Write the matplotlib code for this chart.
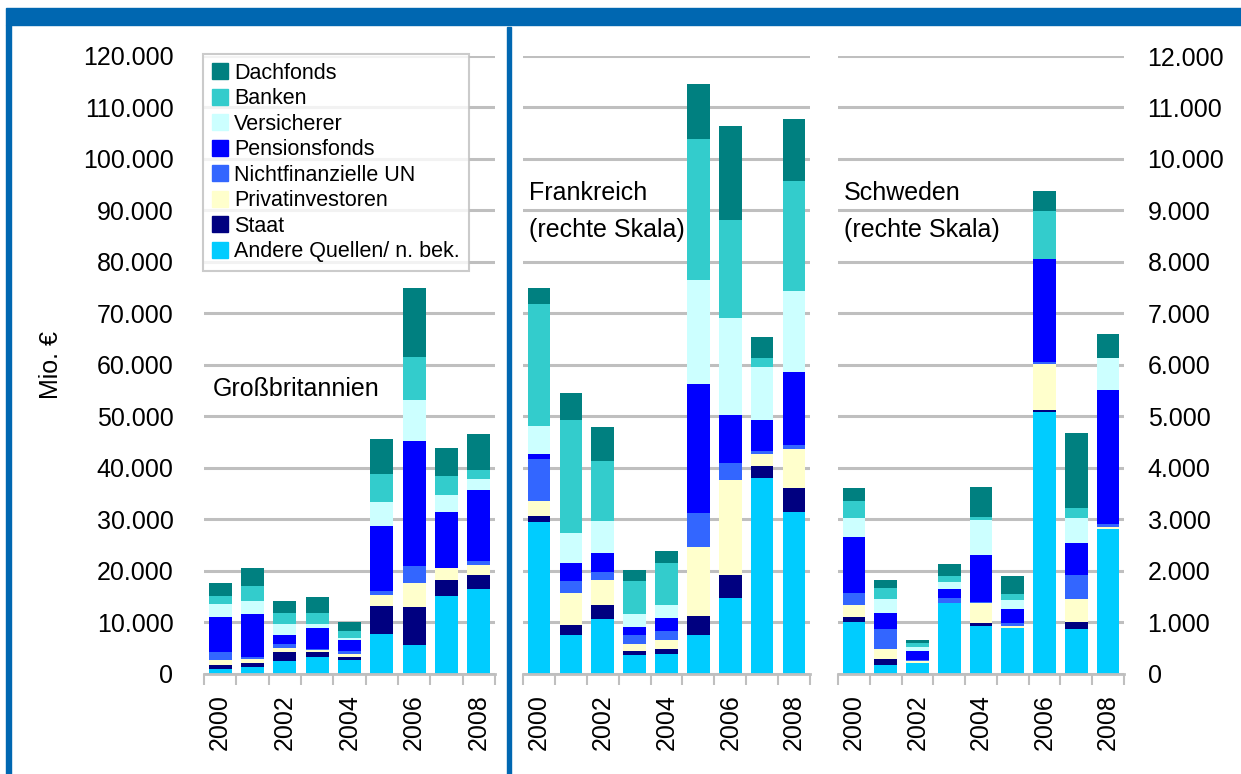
import numpy as np
import matplotlib
matplotlib.use("Agg")
import matplotlib.pyplot as plt
from matplotlib.patches import Patch, Rectangle
from matplotlib.ticker import FuncFormatter

plt.rcParams['font.family'] = ['Liberation Sans', 'DejaVu Sans']

jahre = [2000, 2001, 2002, 2003, 2004, 2005, 2006, 2007, 2008]
quellen = ["Andere Quellen/ n. bek.", "Staat", "Privatinvestoren", "Nichtfinanzielle UN",
           "Pensionsfonds", "Versicherer", "Banken", "Dachfonds"]
farben = ["#00CCFF", "#000080", "#FFFFCC", "#3366FF", "#0000FF", "#CCFFFF", "#33CCCC", "#008080"]

# Großbritannien (linke Skala), Mio. €
andere_uk = [840, 1230, 2400, 3170, 2590, 7640, 5510, 15030, 16390]
staat_uk = [780, 780, 1750, 970, 580, 5440, 7380, 3110, 2720]
privat_uk = [970, 780, 780, 390, 580, 2140, 4660, 2330, 1940]
nfu_uk = [1550, 390, 780, 190, 580, 780, 3300, 100, 780]
pension_uk = [6800, 8350, 1750, 4080, 2140, 12630, 24290, 10880, 13800]
vers_uk = [2530, 2530, 2140, 780, 390, 4660, 7970, 3300, 2140]
banken_uk = [1550, 2910, 2140, 2140, 1360, 5440, 8400, 3690, 1750]
dach_uk = [2530, 3500, 2330, 3110, 1750, 6800, 13400, 5440, 6990]

# Frankreich (rechte Skala)
andere_fr = [2940, 745, 1060, 360, 380, 745, 1460, 3800, 3130]
staat_fr = [120, 190, 270, 80, 100, 370, 450, 230, 470]
privat_fr = [290, 620, 490, 140, 170, 1340, 1850, 230, 760]
nfu_fr = [820, 250, 160, 160, 170, 660, 330, 60, 80]
pension_fr = [100, 350, 370, 170, 250, 2510, 930, 600, 1420]
vers_fr = [540, 580, 620, 250, 270, 2020, 1880, 1030, 1570]
banken_fr = [2370, 2200, 1150, 640, 800, 2740, 1910, 180, 2140]
dach_fr = [310, 520, 680, 210, 250, 1070, 1830, 410, 1200]

# Schweden (rechte Skala)
andere_se = [1000, 160, 200, 1370, 920, 880, 5080, 860, 2800]
staat_se = [100, 120, 10, 0, 60, 0, 40, 140, 0]
privat_se = [230, 190, 40, 0, 390, 40, 890, 450, 40]
nfu_se = [230, 390, 10, 100, 20, 60, 40, 470, 60]
pension_se = [1090, 310, 170, 170, 910, 270, 2000, 620, 2610]
vers_se = [370, 270, 80, 140, 680, 170, 0, 490, 620]
banken_se = [330, 230, 80, 120, 60, 120, 930, 190, 0]
dach_se = [250, 140, 60, 230, 580, 350, 400, 1460, 470]

W, H = 1241, 774
fig = plt.figure(figsize=(W / 100, H / 100), dpi=100)
grau = "#BFBFBF"
blau = "#0067B1"
fs = 18


def px_axes(x0, x1, y0=56, y1=673.5):
    return fig.add_axes([x0 / W, 1 - y1 / H, (x1 - x0) / W, (y1 - y0) / H])


def de_fmt(v, pos):
    return f"{int(round(v)):,}".replace(",", ".")


def zeichne(ax, reihen, ymax):
    x = np.arange(len(jahre))
    unten = np.zeros(len(jahre))
    for werte, farbe in zip(reihen, farben):
        ax.bar(x, werte, width=0.71, bottom=unten, color=farbe, zorder=3)
        unten += np.array(werte, dtype=float)
    ax.set_xlim(-0.5, 8.5)
    ax.set_ylim(0, ymax)
    ax.set_yticks(np.arange(0, ymax + 1, ymax / 12))
    ax.yaxis.grid(True, color=grau, lw=2.2, zorder=0)
    for s in ["top", "left", "right"]:
        ax.spines[s].set_visible(False)
    ax.spines["bottom"].set_color(grau)
    ax.spines["bottom"].set_linewidth(2)
    ax.spines["bottom"].set_zorder(4)
    # Jahre nur jedes zweite, Striche zwischen den Balken
    ax.set_xticks(x[::2])
    ax.set_xticklabels([str(j) for j in jahre[::2]], rotation=90, fontsize=fs)
    ax.tick_params(axis="x", which="major", length=0, pad=15)
    ax.set_xticks(np.arange(-0.5, 9, 1), minor=True)
    ax.tick_params(axis="x", which="minor", length=8, width=1.5, color=grau)
    ax.tick_params(axis="y", length=0, labelsize=fs)


ax_uk = px_axes(204, 495)
zeichne(ax_uk, [andere_uk, staat_uk, privat_uk, nfu_uk, pension_uk, vers_uk, banken_uk, dach_uk], 120000)
ax_uk.yaxis.set_major_formatter(FuncFormatter(de_fmt))
ax_uk.tick_params(axis="y", pad=22)
ax_uk.set_ylabel("Mio. €", fontsize=fs, labelpad=14)
ax_uk.text(0.03, 0.46, "Großbritannien", transform=ax_uk.transAxes, fontsize=fs, va="center")

ax_fr = px_axes(523, 810)
zeichne(ax_fr, [andere_fr, staat_fr, privat_fr, nfu_fr, pension_fr, vers_fr, banken_fr, dach_fr], 12000)
ax_fr.set_yticklabels([])
ax_fr.text(0.02, 0.748, "Frankreich\n(rechte Skala)", transform=ax_fr.transAxes, fontsize=fs,
           va="center", linespacing=1.68)

ax_se = px_axes(838, 1124)
zeichne(ax_se, [andere_se, staat_se, privat_se, nfu_se, pension_se, vers_se, banken_se, dach_se], 12000)
ax_se.yaxis.tick_right()
ax_se.yaxis.set_major_formatter(FuncFormatter(de_fmt))
ax_se.tick_params(axis="y", pad=17)
ax_se.text(0.02, 0.748, "Schweden\n(rechte Skala)", transform=ax_se.transAxes, fontsize=fs,
           va="center", linespacing=1.68)

# Legende oben links
handles = [Patch(color=c, label=l) for c, l in zip(farben[::-1], quellen[::-1])]
leg = fig.legend(handles=handles, loc="upper left", bbox_to_anchor=(203 / W, 1 - 54 / H),
                 fontsize=15.5, frameon=True, fancybox=False, borderaxespad=0,
                 handlelength=0.75, handleheight=0.75, handletextpad=0.3,
                 labelspacing=0.21, borderpad=0.4)
leg.get_frame().set_edgecolor(grau)
leg.get_frame().set_linewidth(1.5)

# blauer Rahmen: Band oben, Linie links, Trennlinie
fig.patches.append(Rectangle((6 / W, 1 - 25 / H), 1 - 6 / W, 17 / H, transform=fig.transFigure,
                             color=blau, zorder=5))
fig.patches.append(Rectangle((6 / W, 0), 5 / W, 1 - 25 / H, transform=fig.transFigure,
                             color=blau, zorder=5))
fig.patches.append(Rectangle((507 / W, 0), 4 / W, 1 - 27 / H, transform=fig.transFigure,
                             color=blau, zorder=5))

fig.savefig("out.png", dpi=100)
